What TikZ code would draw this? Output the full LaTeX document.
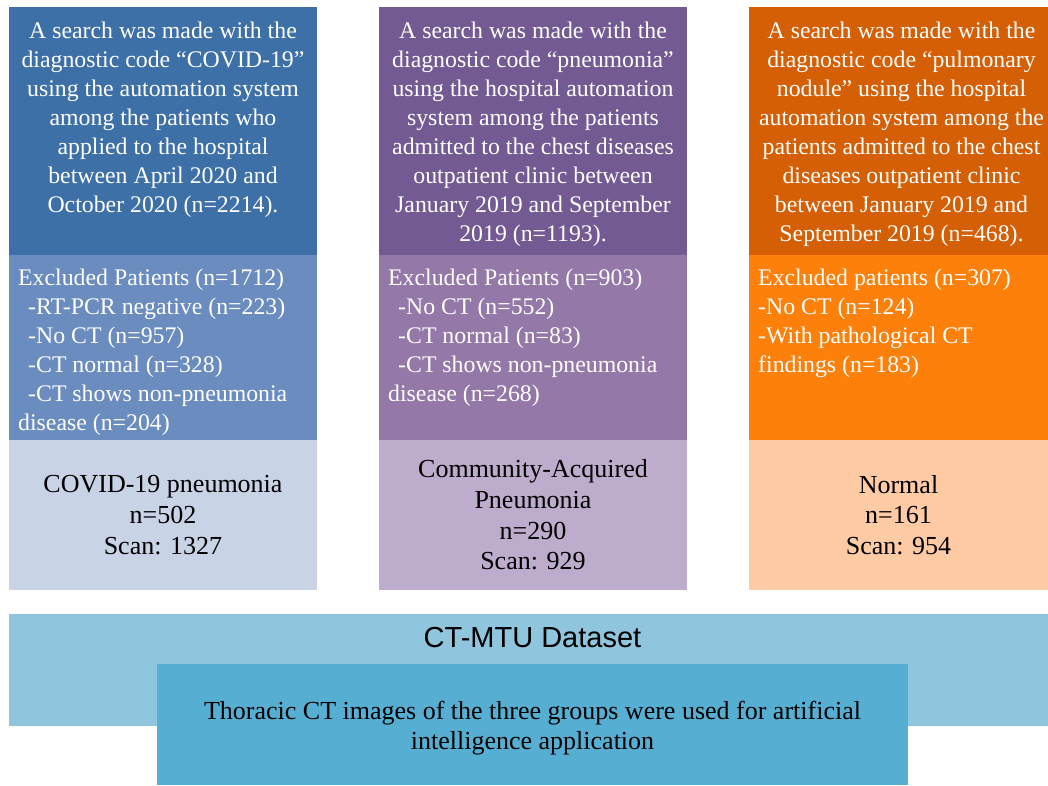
\documentclass[tikz,border=0pt]{standalone}
\usepackage{fontspec}
\setmainfont{Liberation Serif}
\newfontfamily\headfont{Liberation Sans}
\usepackage{xcolor}
\usepackage{tikz}
\usetikzlibrary{positioning}

\definecolor{covTop}{RGB}{62,112,168}
\definecolor{covMid}{RGB}{106,140,190}
\definecolor{covLow}{RGB}{200,211,229}
\definecolor{capTop}{RGB}{115,90,146}
\definecolor{capMid}{RGB}{148,120,168}
\definecolor{capLow}{RGB}{189,172,203}
\definecolor{norTop}{RGB}{212,95,5}
\definecolor{norMid}{RGB}{252,128,10}
\definecolor{norLow}{RGB}{255,203,165}
\definecolor{bandBlue}{RGB}{143,197,221}
\definecolor{aiBlue}{RGB}{86,175,210}

\begin{document}
\begin{tikzpicture}[
    x=1pt, y=-1pt,
    box/.style={rectangle, inner sep=0pt, outer sep=0pt},
    searchbox/.style={box, minimum width=308pt, minimum height=248pt, anchor=north west},
    exclbox/.style={box, minimum width=308pt, minimum height=185pt},
    groupbox/.style={box, minimum width=308pt, minimum height=150pt, align=center, font=\fontsize{26}{30.7}\selectfont},
    searchtext/.style={inner sep=0pt, align=center, text=white, font=\fontsize{23.8}{29}\selectfont},
    excltext/.style={inner sep=0pt, align=left, text=white, font=\fontsize{23.8}{29}\selectfont},
    node distance=0pt
]
\path[fill=white] (0,0) rectangle (1048,785);
\useasboundingbox (0,0) rectangle (1048,785);

% COVID-19 column
\node[searchbox, fill=covTop] (covsearch) at (9,7) {};
\node[exclbox, fill=covMid, below=of covsearch] (covexcl) {};
\node[groupbox, fill=covLow, below=of covexcl] (covgroup) {COVID-19 pneumonia\\n=502\\Scan: 1327};
\node[searchtext, below=15pt of covsearch.north] (covsearchtxt) {A search was made with the\\diagnostic code “COVID-19”\\using the automation system\\among the patients who\\applied to the hospital\\between April 2020 and\\October 2020 (n=2214).};
\node[excltext, below right=14pt and 9pt of covexcl.north west] (covexcltxt) {Excluded Patients (n=1712)\\\hspace*{10pt}-RT-PCR negative (n=223)\\\hspace*{10pt}-No CT (n=957)\\\hspace*{10pt}-CT normal (n=328)\\\hspace*{10pt}-CT shows non-pneumonia\\disease (n=204)};

% pneumonia column
\node[searchbox, fill=capTop] (capsearch) at (379,7) {};
\node[exclbox, fill=capMid, below=of capsearch] (capexcl) {};
\node[groupbox, fill=capLow, below=of capexcl] (capgroup) {Community-Acquired\\Pneumonia\\n=290\\Scan: 929};
\node[searchtext, below=15pt of capsearch.north] (capsearchtxt) {A search was made with the\\diagnostic code “pneumonia”\\using the hospital automation\\system among the patients\\admitted to the chest diseases\\outpatient clinic between\\January 2019 and September\\2019 (n=1193).};
\node[excltext, below right=14pt and 9pt of capexcl.north west] (capexcltxt) {Excluded Patients (n=903)\\\hspace*{10pt}-No CT (n=552)\\\hspace*{10pt}-CT normal (n=83)\\\hspace*{10pt}-CT shows non-pneumonia\\disease (n=268)};

% pulmonary nodule column
\node[searchbox, fill=norTop, minimum width=299pt] (norsearch) at (749,7) {};
\node[exclbox, fill=norMid, minimum width=299pt, below=of norsearch] (norexcl) {};
\node[groupbox, fill=norLow, minimum width=299pt, below=of norexcl] (norgroup) {Normal\\n=161\\Scan: 954};
\node[searchtext, below=15pt of norsearch.north, xshift=3pt] (norsearchtxt) {A search was made with the\\diagnostic code “pulmonary\\nodule” using the hospital\\automation system among the\\patients admitted to the chest\\diseases outpatient clinic\\between January 2019 and\\September 2019 (n=468).};
\node[excltext, below right=14pt and 9pt of norexcl.north west] (norexcltxt) {Excluded patients (n=307)\\-No CT (n=124)\\-With pathological CT\\findings (n=183)};

% dataset band
\node[box, fill=bandBlue, minimum width=1039pt, minimum height=112pt, anchor=north west] (dataset) at (9,614) {};
\node[box, fill=aiBlue, minimum width=751pt, minimum height=121pt, anchor=north west, align=center, font=\fontsize{26}{30}\selectfont] (aiuse) at (157,664) {\rule{0pt}{26pt}Thoracic CT images of the three groups were used for artificial\\intelligence application};
\node[inner sep=0pt, font=\headfont\fontsize{29}{32}\selectfont, above=16pt of aiuse] (datasettitle) {CT-MTU Dataset};

\end{tikzpicture}
\end{document}
